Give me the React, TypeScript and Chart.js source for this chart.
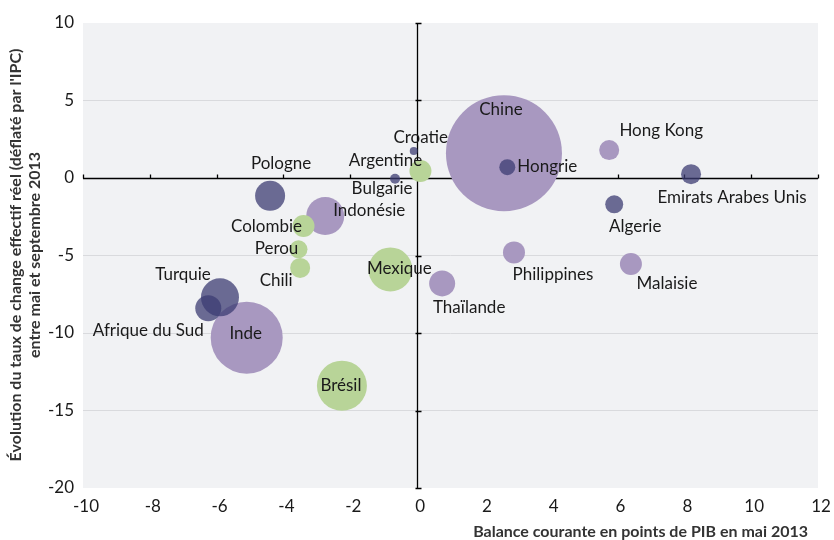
import React, { useEffect, useRef } from "react";
import { Chart, registerables } from "chart.js";

Chart.register(...registerables);

const countries = ["Chine", "Inde", "Brésil", "Mexique", "Indonésie", "Turquie", "Afrique du Sud", "Pologne", "Thaïlande", "Hong Kong", "Philippines", "Malaisie", "Emirats Arabes Unis", "Algerie", "Colombie", "Perou", "Chili", "Argentine", "Hongrie", "Croatie", "Bulgarie"];
const balance = [2.6, -5.1, -2.25, -0.8, -2.75, -5.9, -6.25, -4.4, 0.75, 5.75, 2.9, 6.4, 8.2, 5.9, -3.4, -3.55, -3.5, 0.1, 2.7, -0.1, -0.66];
const change = [1.6, -10.3, -13.4, -5.9, -2.45, -7.7, -8.4, -1.15, -6.8, 1.8, -4.8, -5.55, 0.25, -1.7, -3.1, -4.6, -5.8, 0.45, 0.7, 1.75, -0.05];
const bubbleSize = [58, 36, 25, 22, 19, 19, 13, 15, 13, 10, 11, 11, 10, 9, 11, 9, 10, 11, 8, 4, 5];
const groups = ["asie", "asie", "amerique", "amerique", "asie", "europe", "europe", "europe", "asie", "asie", "asie", "asie", "europe", "europe", "amerique", "amerique", "amerique", "amerique", "europe", "europe", "europe"];
const xTicks = [-10, -8, -6, -4, -2, 0, 2, 4, 6, 8, 10, 12];
const yTicks = [-20, -15, -10, -5, 0, 5, 10];

// label placement relative to bubble centre (px)
const labelOffsets: [number, number][] = [
  [-3, -44], [-1, -4], [-1, 0], [9, -1], [44, -5], [-37, -23], [-60, 22], [11, -32], [27, 24], [52, -20],
  [39, 22], [36, 19], [41, 23], [21, 22], [-37, 0], [-22, -1], [-24, 13], [-35, -11], [40, -1], [7, -13], [-13, 10],
];

const groupColors: Record<string, string> = {
  asie: "#a898c0",
  amerique: "#b8d498",
  europe: "rgba(60,60,115,0.75)",
};

const FONT = "Lato, 'Open Sans', sans-serif";

export default function App() {
  const ref = useRef<HTMLCanvasElement | null>(null);
  useEffect(() => {
    if (!ref.current) return;
    const data = countries.map((c, i) => ({ x: balance[i], y: change[i], r: bubbleSize[i] }));
    const bgPlugin = {
      id: "bg",
      beforeDraw(chart: any) {
        const { ctx, chartArea: a } = chart;
        ctx.save();
        ctx.fillStyle = "#f1f2f4";
        ctx.fillRect(a.left, a.top, a.right - a.left, a.bottom - a.top);
        ctx.restore();
      },
      beforeDatasetsDraw(chart: any) {
        const { ctx, chartArea: a, scales } = chart;
        const x0 = Math.round(scales.x.getPixelForValue(0)) + 0.5;
        const y0 = Math.round(scales.y.getPixelForValue(0)) + 0.5;
        ctx.save();
        ctx.strokeStyle = "#000";
        ctx.lineWidth = 1.3;
        ctx.beginPath();
        ctx.moveTo(a.left, y0);
        ctx.lineTo(a.right, y0);
        ctx.moveTo(x0, a.top);
        ctx.lineTo(x0, a.bottom);
        xTicks.forEach((v) => {
          const px = Math.round(scales.x.getPixelForValue(v)) + 0.5;
          ctx.moveTo(px, y0 - 4);
          ctx.lineTo(px, y0);
        });
        yTicks.forEach((v) => {
          const py = Math.round(scales.y.getPixelForValue(v)) + 0.5;
          ctx.moveTo(x0 - 2, py);
          ctx.lineTo(x0 + 4, py);
        });
        ctx.stroke();
        ctx.restore();
      },
      afterDatasetsDraw(chart: any) {
        const { ctx, scales } = chart;
        ctx.save();
        ctx.font = `17px ${FONT}`;
        ctx.fillStyle = "#1a1a1a";
        ctx.textAlign = "center";
        ctx.textBaseline = "middle";
        countries.forEach((c, i) => {
          const px = scales.x.getPixelForValue(balance[i]) + labelOffsets[i][0];
          const py = scales.y.getPixelForValue(change[i]) + labelOffsets[i][1];
          ctx.fillText(c, px, py);
        });
        // axis titles
        ctx.fillStyle = "#333";
        ctx.font = `bold 16px ${FONT}`;
        ctx.textAlign = "right";
        ctx.fillText("Balance courante en points de PIB en mai 2013", 808, 532);
        ctx.save();
        ctx.translate(0, 255);
        ctx.rotate(-Math.PI / 2);
        ctx.textAlign = "center";
        ctx.fillText("Évolution du taux de change effectif réel (déflaté par l'IPC)", 0, 16);
        ctx.fillText("entre mai et septembre 2013", 0, 35);
        ctx.restore();
        ctx.restore();
      },
    };
    const chart = new Chart(ref.current, {
      type: "bubble",
      data: {
        datasets: [
          {
            data,
            backgroundColor: groups.map((g) => groupColors[g]),
            borderWidth: 0,
            hoverBorderWidth: 0,
          },
        ],
      },
      options: {
        animation: false,
        responsive: true,
        maintainAspectRatio: false,
        layout: { autoPadding: false, padding: { left: 0, top: 23, right: 16, bottom: 0 } },
        plugins: { legend: { display: false }, tooltip: { enabled: false } },
        scales: {
          x: {
            type: "linear",
            min: -10,
            max: 12,
            afterFit(scale: any) {
              scale.height = 52;
              scale.paddingLeft = 0;
              scale.paddingRight = 0;
            },
            afterBuildTicks(scale: any) {
              scale.ticks = xTicks.map((v) => ({ value: v }));
            },
            grid: { display: false },
            border: { display: false },
            ticks: { font: { family: FONT, size: 17 }, color: "#1a1a1a", padding: 0, labelOffset: 3, maxRotation: 0 },
          },
          y: {
            type: "linear",
            min: -20,
            max: 10,
            afterFit(scale: any) {
              scale.width = 83;
              scale.paddingTop = 0;
              scale.paddingBottom = 0;
            },
            afterBuildTicks(scale: any) {
              scale.ticks = yTicks.map((v) => ({ value: v }));
            },
            grid: {
              drawTicks: false,
              color: (c: any) => (c.tick && (c.tick.value === 0 || c.tick.value === 10 || c.tick.value === -20) ? "rgba(0,0,0,0)" : "#d9dadd"),
            },
            border: { display: false },
            ticks: { font: { family: FONT, size: 17 }, color: "#1a1a1a", padding: 9 },
          },
        },
      },
      plugins: [bgPlugin],
    });
    return () => chart.destroy();
  }, []);
  return (
    <div style={{ position: "fixed", left: 0, top: 0, width: 834, height: 540, background: "#fff" }}>
      <canvas ref={ref} />
    </div>
  );
}
